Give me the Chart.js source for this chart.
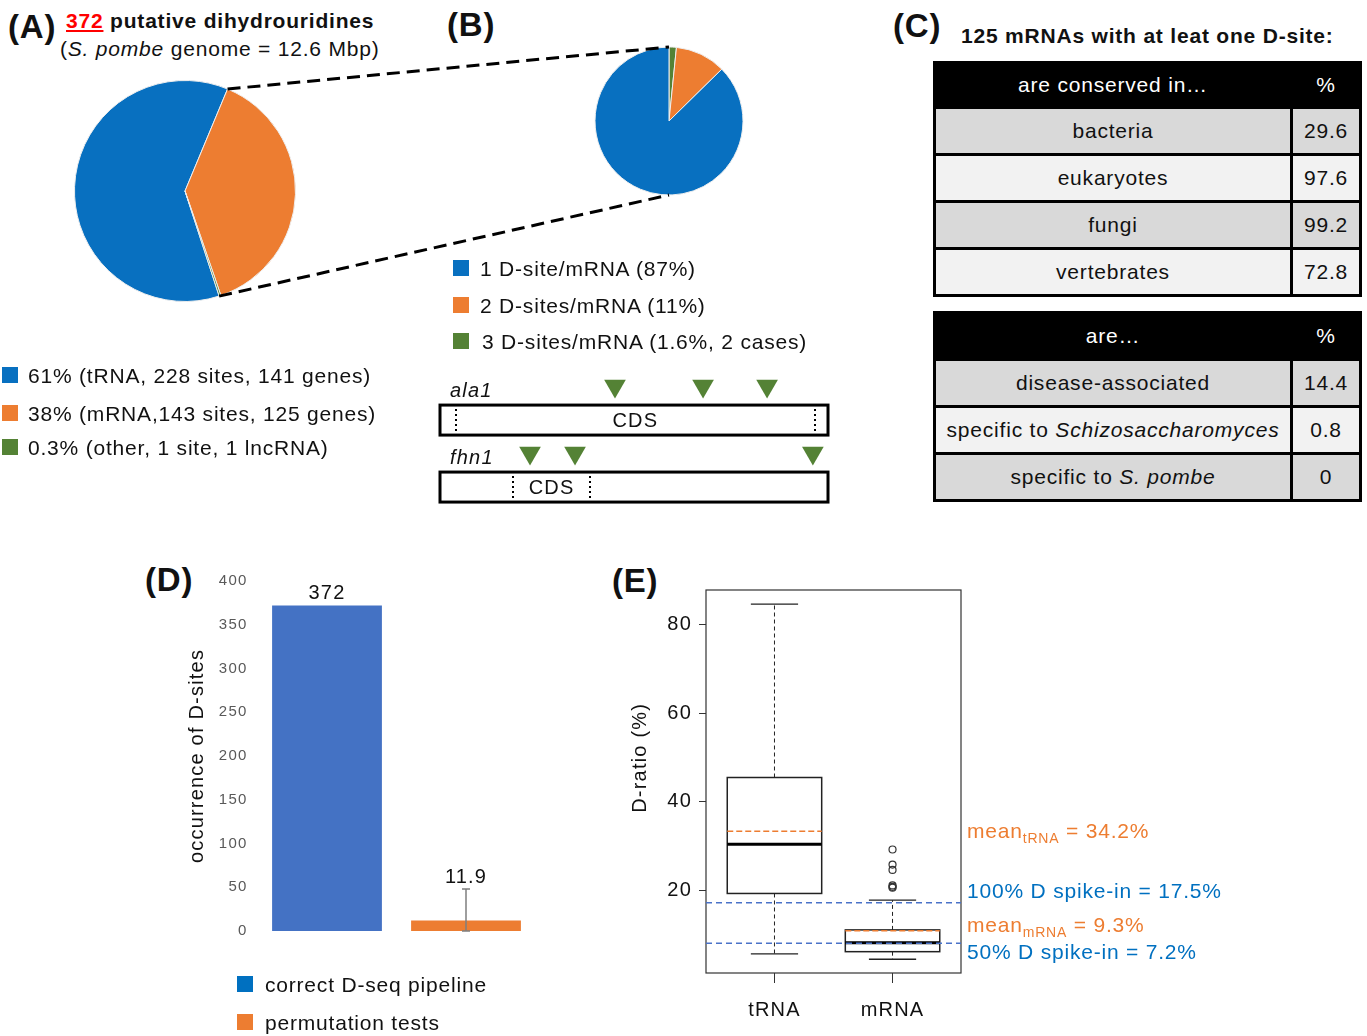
<!DOCTYPE html>
<html>
<head>
<meta charset="utf-8">
<script src="https://cdn.jsdelivr.net/npm/chart.js@4.4.0/dist/chart.umd.min.js"></script>
<style>
body { margin: 0; background: #fff; }
#page { position: relative; width: 1367px; height: 1036px; overflow: hidden; font-family: "Liberation Sans", Arial, sans-serif; color: #111; letter-spacing: 0.05em; }
.abs { position: absolute; white-space: nowrap; line-height: 1; }
.panel { font-size: 33px; font-weight: bold; }
.t20 { font-size: 21px; }
.b { font-weight: bold; }
canvas { position: absolute; }
.sw { position: absolute; width: 16px; height: 16px; }
table.ct { position: absolute; width: 429px; border-collapse: separate; border-spacing: 0; table-layout: fixed; font-size: 21px;
	border-left: 3px solid #000; border-top: 3px solid #000; }
table.ct td { border-right: 3px solid #000; border-bottom: 3px solid #000; text-align: center; padding: 0; height: 44px; }
table.ct tr.head td { background: #000; color: #fff; }
sub { font-size: 14px; vertical-align: -5px; line-height: 0; }
</style>
</head>
<body>
<div id="page">

	<div class="abs panel" style="left:8px; top:10px;">(A)</div>
	<div class="abs t20 b" style="left:66px; top:10px;"><span style="color:#ff0000; text-decoration:underline;">372</span> putative dihydrouridines</div>
	<div class="abs t20" style="left:60px; top:38px;">(<i>S. pombe</i> genome = 12.6 Mbp)</div>
	<div class="abs panel" style="left:447px; top:8px;">(B)</div>
	<div class="abs panel" style="left:893px; top:9px;">(C)</div>
	<div class="abs t20 b" style="left:961px; top:25px;">125 mRNAs with at leat one D-site:</div>
	<div class="abs panel" style="left:145px; top:563px;">(D)</div>
	<div class="abs panel" style="left:612px; top:564px;">(E)</div>

	<canvas id="pieA" width="240" height="240" style="left:65px; top:71px;"></canvas>
	<canvas id="pieB" width="160" height="160" style="left:589px; top:41px;"></canvas>
	<canvas id="genes" width="410" height="140" style="left:430px; top:370px;"></canvas>
	<canvas id="barD" width="380" height="390" style="left:170px; top:560px;"></canvas>
	<canvas id="boxE" width="370" height="450" style="left:600px; top:575px;"></canvas>
	<canvas id="links" width="1367" height="1036" style="left:0; top:0; pointer-events:none;"></canvas>

	<div id="legendA"></div>
	<div id="legendB"></div>
	<div id="legendD"></div>
	<div id="tables"></div>

	<div class="abs t20" style="left:967px; top:820px; color:#ed7d31;">mean<sub>tRNA</sub> = 34.2%</div>
	<div class="abs t20" style="left:967px; top:880px; color:#0070c0;">100% D spike-in = 17.5%</div>
	<div class="abs t20" style="left:967px; top:914px; color:#ed7d31;">mean<sub>mRNA</sub> = 9.3%</div>
	<div class="abs t20" style="left:967px; top:941px; color:#0070c0;">50% D spike-in = 7.2%</div>
</div>

<script>
// (A) all putative D-sites by RNA class
const siteClasses = ['tRNA', 'mRNA', 'other'];
const siteCounts = [228, 143, 1];
const siteLegend = ['61% (tRNA, 228 sites, 141 genes)', '38% (mRNA,143 sites, 125 genes)', '0.3% (other, 1 site, 1 lncRNA)'];

// (B) D-sites per mRNA
const perMrnaLegend = ['1 D-site/mRNA (87%)', '2 D-sites/mRNA (11%)', '3 D-sites/mRNA (1.6%, 2 cases)'];
const perMrnaPct = [87, 11, 1.6];

const pieColors = ['#0870c0', '#ed7d31', '#548235'];

// gene maps, positions in % of transcript length
const genes = ['ala1', 'fhn1'];
const cdsStart = [4.1, 18.8];
const cdsEnd = [96.6, 38.7];
const dSites = [[45.1, 67.8, 84.3], [23.2, 34.8, 96.1]];

// (C) conservation tables
const conservedIn = ['bacteria', 'eukaryotes', 'fungi', 'vertebrates'];
const conservedPct = ['29.6', '97.6', '99.2', '72.8'];
const areLabels = ['disease-associated', 'specific to <i>Schizosaccharomyces</i>', 'specific to <i>S. pombe</i>'];
const arePct = ['14.4', '0.8', '0'];

// (D) occurrence of D-sites
const pipelines = ['correct D-seq pipeline', 'permutation tests'];
const dsiteCounts = [372, 11.9];
const dsiteErr = [0, 36];

// (E) D-ratio boxplots
const boxGroups = ['tRNA', 'mRNA'];
const boxMin = [5.8, 4.6];
const boxQ1 = [19.4, 6.3];
const boxMedian = [30.5, 8.3];
const boxQ3 = [45.5, 11.2];
const boxMax = [84.5, 17.9];
const boxMean = [33.4, 11.0];
const mrnaOutliers = [29.3, 25.9, 24.7, 21.2, 20.9, 20.7];
const spikeIn = [17.3, 8.2];
const ratioTicks = [20, 40, 60, 80];

Chart.defaults.font.family = '"Liberation Sans", Arial, sans-serif';
Chart.defaults.color = '#111';

// the figure's lettering is a bit wider than plain Arial
Chart.register({
	id: 'spacing',
	beforeUpdate(chart) { chart.ctx.letterSpacing = '1.2px'; },
	beforeDraw(chart) { chart.ctx.letterSpacing = '1.2px'; }
});

const noise = {
	responsive: false,
	animation: false,
	events: [],
	plugins: { legend: { display: false }, tooltip: { enabled: false } }
};

function noPad(scale) {
	scale.paddingTop = 0;
	scale.paddingBottom = 0;
	scale.paddingLeft = 0;
	scale.paddingRight = 0;
}

// legends and tables as html
function legend(id, labels, colors, left, top, step, textLeft) {
	let html = '';
	let c = top;
	labels.forEach((label, i) => {
		c += step[i];
		html += '<div class="sw" style="left:' + left + 'px; top:' + (c - 8) + 'px; background:' + colors[i] + ';"></div>';
		html += '<div class="abs t20" style="left:' + textLeft[i] + 'px; top:' + (c - 10) + 'px;">' + label + '</div>';
	});
	document.getElementById(id).innerHTML = html;
}
legend('legendA', siteLegend, pieColors, 2, 375, [0, 38, 34], [28, 28, 28]);
legend('legendB', perMrnaLegend, pieColors, 453, 268, [0, 37, 36], [480, 480, 482]);
legend('legendD', pipelines, ['#0070c0', '#ed7d31'], 237, 984, [0, 38], [265, 265]);

function table(top, head, rows, values, headHeight) {
	let html = '<table class="ct" style="left:933px; top:' + top + 'px;"><colgroup><col style="width:357px"><col style="width:69px"></colgroup>';
	html += '<tr class="head"><td style="height:' + headHeight + 'px">' + head + '</td><td style="height:' + headHeight + 'px">%</td></tr>';
	rows.forEach((r, i) => {
		const bg = i % 2 === 0 ? '#d9d9d9' : '#f2f2f2';
		html += '<tr style="background:' + bg + '"><td>' + r + '</td><td>' + values[i] + '</td></tr>';
	});
	return html + '</table>';
}
document.getElementById('tables').innerHTML =
	table(61, 'are conserved in…', conservedIn, conservedPct, 42) +
	table(311, 'are…', areLabels, arePct, 44);

// (A) pie
const pieA = new Chart(document.getElementById('pieA'), {
	type: 'pie',
	data: {
		labels: siteClasses,
		datasets: [{ data: siteCounts, backgroundColor: pieColors, borderColor: '#eeeeee', borderWidth: 1 }]
	},
	options: Object.assign({ radius: 110.5, rotation: 162 }, noise)
});

// (B) pie, drawn clockwise from the top: 3 sites, 2 sites, 1 site
const pieB = new Chart(document.getElementById('pieB'), {
	type: 'pie',
	data: {
		labels: perMrnaLegend.slice().reverse(),
		datasets: [{ data: perMrnaPct.slice().reverse(), backgroundColor: pieColors.slice().reverse(), borderColor: '#eeeeee', borderWidth: 1 }]
	},
	options: Object.assign({ radius: 74, rotation: 0 }, noise)
});

// dashed zoom lines between the two pies
(function() {
	function edge(chart, index, angle) {
		const arc = chart.getDatasetMeta(0).data[index];
		const c = chart.canvas;
		return [c.offsetLeft + arc.x + arc.outerRadius * Math.cos(angle), c.offsetTop + arc.y + arc.outerRadius * Math.sin(angle)];
	}
	const metaA = pieA.getDatasetMeta(0).data;
	const pairs = [
		[edge(pieA, 1, metaA[1].startAngle), edge(pieB, 0, -Math.PI / 2)],
		[edge(pieA, 2, metaA[2].endAngle), edge(pieB, 0, Math.PI / 2)]
	];
	const ctx = document.getElementById('links').getContext('2d');
	ctx.strokeStyle = '#000';
	ctx.lineWidth = 3;
	ctx.setLineDash([13, 7]);
	pairs.forEach(p => {
		ctx.beginPath();
		ctx.moveTo(p[0][0], p[0][1]);
		ctx.lineTo(p[1][0], p[1][1]);
		ctx.stroke();
	});
})();

// gene maps
const geneBoxes = {
	id: 'geneBoxes',
	beforeDatasetsDraw(chart) {
		const { ctx, scales: { x, y } } = chart;
		ctx.save();
		genes.forEach((g, i) => {
			const row = y.getPixelForValue(i);
			const left = x.getPixelForValue(0), right = x.getPixelForValue(100);
			const top = row + 19, h = 30;
			ctx.lineWidth = 3;
			ctx.strokeStyle = '#000';
			ctx.strokeRect(left, top, right - left, h);
			ctx.lineWidth = 2;
			ctx.setLineDash([2, 3]);
			[cdsStart[i], cdsEnd[i]].forEach(v => {
				const px = Math.round(x.getPixelForValue(v));
				ctx.beginPath();
				ctx.moveTo(px, top + 4);
				ctx.lineTo(px, top + h - 3);
				ctx.stroke();
			});
			ctx.setLineDash([]);
			ctx.fillStyle = '#111';
			ctx.textBaseline = 'middle';
			ctx.font = '20px "Liberation Sans"';
			ctx.textAlign = 'center';
			ctx.fillText('CDS', x.getPixelForValue((cdsStart[i] + cdsEnd[i]) / 2), top + h / 2 + 1);
			ctx.font = 'italic 20px "Liberation Sans"';
			ctx.textAlign = 'left';
			ctx.fillText(g, left + 10, row + 5);
		});
		ctx.restore();
	}
};

new Chart(document.getElementById('genes'), {
	type: 'scatter',
	data: {
		datasets: genes.map((g, i) => ({
			label: g,
			data: dSites[i].map(v => ({ x: v, y: i })),
			pointStyle: 'triangle',
			rotation: 180,
			radius: 12.5,
			backgroundColor: '#548235',
			borderColor: '#548235',
			borderWidth: 0
		}))
	},
	options: Object.assign({
		layout: { autoPadding: false, padding: { left: 10, right: 12, top: 0, bottom: 0 } },
		scales: {
			x: { display: false, min: 0, max: 100 },
			y: { display: false, min: -0.24, max: 1.85, reverse: true }
		}
	}, noise),
	plugins: [geneBoxes]
});

// (D) bars with value labels and error bars
const errorBars = {
	id: 'errorBars',
	afterDatasetsDraw(chart) {
		const { ctx, scales: { y } } = chart;
		ctx.save();
		chart.getDatasetMeta(0).data.forEach((bar, i) => {
			const v = dsiteCounts[i], e = dsiteErr[i];
			let top = bar.y;
			if (e > 0) {
				const hi = y.getPixelForValue(v + e), lo = y.getPixelForValue(Math.max(0, v - e));
				ctx.strokeStyle = '#7f7f7f';
				ctx.lineWidth = 1.5;
				ctx.beginPath();
				ctx.moveTo(bar.x, hi); ctx.lineTo(bar.x, lo);
				ctx.moveTo(bar.x - 4, hi); ctx.lineTo(bar.x + 4, hi);
				ctx.moveTo(bar.x - 4, lo); ctx.lineTo(bar.x + 4, lo);
				ctx.stroke();
				top = hi;
			}
			ctx.fillStyle = '#111';
			ctx.font = '20px "Liberation Sans"';
			ctx.textAlign = 'center';
			ctx.textBaseline = 'middle';
			ctx.fillText(String(v), bar.x, top - 12);
		});
		ctx.restore();
	}
};

new Chart(document.getElementById('barD'), {
	type: 'bar',
	data: {
		labels: pipelines,
		datasets: [{ data: dsiteCounts, backgroundColor: ['#4472c4', '#ed7d31'], categoryPercentage: 1, barPercentage: 0.79 }]
	},
	options: Object.assign({
		layout: { padding: { top: 21, bottom: 19, right: 14.5 } },
		scales: {
			x: { display: false },
			y: {
				min: 0,
				max: 400,
				ticks: { stepSize: 50, padding: 10, color: '#595959', font: { size: 15 } },
				grid: { display: false, drawTicks: false },
				border: { display: false },
				title: { display: true, text: 'occurrence of D-sites', color: '#111', font: { size: 20 }, padding: { top: 15, bottom: 0 } },
				afterFit(scale) { scale.width = 87.5; noPad(scale); }
			}
		}
	}, noise),
	plugins: [errorBars]
});

// (E) boxplots
const boxPlot = {
	id: 'boxPlot',
	beforeDatasetsDraw(chart) {
		const { ctx, chartArea: a, scales: { x, y } } = chart;
		ctx.save();
		ctx.strokeStyle = '#333';
		ctx.lineWidth = 1.2;
		ctx.strokeRect(a.left, a.top, a.right - a.left, a.bottom - a.top);
		const hline = (x1, x2, py) => { ctx.beginPath(); ctx.moveTo(x1, py); ctx.lineTo(x2, py); ctx.stroke(); };
		boxGroups.forEach((g, i) => {
			const cx = x.getPixelForValue(i + 1);
			const bl = x.getPixelForValue(i + 1 - 0.4), br = x.getPixelForValue(i + 1 + 0.4);
			const cl = x.getPixelForValue(i + 1 - 0.2), cr = x.getPixelForValue(i + 1 + 0.2);
			const pMin = y.getPixelForValue(boxMin[i]), pQ1 = y.getPixelForValue(boxQ1[i]);
			const pMed = y.getPixelForValue(boxMedian[i]), pQ3 = y.getPixelForValue(boxQ3[i]);
			const pMax = y.getPixelForValue(boxMax[i]), pMean = y.getPixelForValue(boxMean[i]);
			ctx.strokeStyle = '#222';
			ctx.lineWidth = 1;
			ctx.setLineDash([4, 3]);
			ctx.beginPath();
			ctx.moveTo(cx, pQ3); ctx.lineTo(cx, pMax);
			ctx.moveTo(cx, pQ1); ctx.lineTo(cx, pMin);
			ctx.stroke();
			ctx.setLineDash([]);
			ctx.lineWidth = 1.3;
			hline(cl, cr, pMax);
			hline(cl, cr, pMin);
			ctx.lineWidth = 1.5;
			ctx.strokeRect(bl, pQ3, br - bl, pQ1 - pQ3);
			ctx.strokeStyle = '#000';
			ctx.lineWidth = 3;
			hline(bl, br, pMed);
			ctx.strokeStyle = '#ed7d31';
			ctx.lineWidth = 1.5;
			ctx.setLineDash([6, 3]);
			hline(bl, br, pMean);
			ctx.setLineDash([]);
		});
		ctx.strokeStyle = '#4a72c8';
		ctx.lineWidth = 1.5;
		ctx.setLineDash([6, 4]);
		spikeIn.forEach(v => hline(a.left, a.right, y.getPixelForValue(v)));
		ctx.restore();
	}
};

new Chart(document.getElementById('boxE'), {
	type: 'scatter',
	data: {
		datasets: [{
			data: mrnaOutliers.map(v => ({ x: 2, y: v })),
			pointStyle: 'circle',
			radius: 3.5,
			borderColor: '#333',
			backgroundColor: 'rgba(0,0,0,0)',
			borderWidth: 1.2
		}]
	},
	options: Object.assign({
		layout: { autoPadding: false, padding: { top: 15, right: 9, bottom: 3 } },
		scales: {
			x: {
				type: 'linear',
				min: 0.42,
				max: 2.58,
				afterBuildTicks(scale) { scale.ticks = boxGroups.map((g, i) => ({ value: i + 1 })); },
				ticks: { callback: v => boxGroups[Math.round(v) - 1], font: { size: 20 }, color: '#111', padding: 15 },
				grid: { drawOnChartArea: false, tickLength: 10, color: '#333' },
				border: { display: false },
				afterFit(scale) { scale.height = 49; noPad(scale); }
			},
			y: {
				min: 1.5,
				max: 87.7,
				afterBuildTicks(scale) { scale.ticks = ratioTicks.map(v => ({ value: v })); },
				ticks: { font: { size: 20 }, color: '#111', padding: 7 },
				grid: { drawOnChartArea: false, tickLength: 7, color: '#333' },
				border: { display: false },
				// R puts this title a little above the middle of the plot box
				title: { display: true, text: '\u00a0'.repeat(7) + 'D-ratio (%)', color: '#111', font: { size: 20 }, padding: { top: 28, bottom: 0 } },
				afterFit(scale) { scale.width = 106; noPad(scale); }
			}
		}
	}, noise),
	plugins: [boxPlot]
});
</script>
</body>
</html>
